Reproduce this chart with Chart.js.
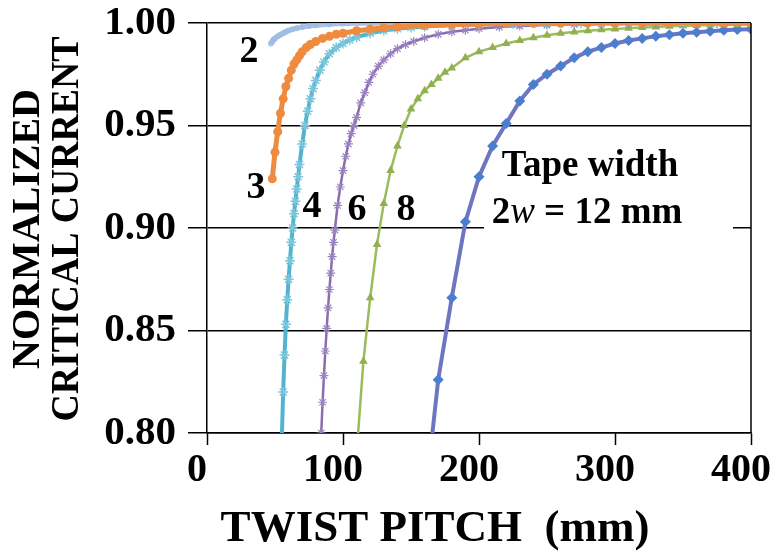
<!DOCTYPE html>
<html>
<head>
<meta charset="utf-8">
<script src="https://cdn.jsdelivr.net/npm/chart.js@4.4.1/dist/chart.umd.min.js"></script>
<style>
  html, body { margin: 0; padding: 0; background: #fff; }
  #wrap { width: 782px; height: 555px; }
</style>
</head>
<body>
<div id="wrap"><canvas id="ic" width="782" height="555"></canvas></div>
<script>
// number written next to each curve
const curveNames = ['2', '3', '4', '6', '8', '12'];

// twist pitch (mm) and normalized critical current, one pair per curve
const pitch2 = [47, 48, 49, 50, 52, 54, 56, 58, 60, 63, 66, 70, 75, 80, 90, 100, 120, 150, 200, 250, 300, 350, 400];
const ic2 = [0.990, 0.991, 0.992, 0.9925, 0.9935, 0.9943, 0.995, 0.9957, 0.9963, 0.997, 0.9975, 0.998, 0.9985, 0.9989, 0.9994, 0.9997, 0.9999, 1, 1, 1, 1, 1, 1];

const pitch3 = [48, 50, 52, 54, 56, 58, 60, 62, 64, 66, 68, 70, 73, 76, 80, 85, 90, 95, 100, 110, 120, 130, 140, 160, 180, 200, 220, 240, 260, 280, 300, 320, 340, 360, 380, 400];
const ic3 = [0.924, 0.937, 0.947, 0.956, 0.963, 0.969, 0.973, 0.977, 0.980, 0.982, 0.984, 0.986, 0.988, 0.9895, 0.991, 0.9925, 0.9935, 0.9945, 0.995, 0.9962, 0.997, 0.9977, 0.9982, 0.9988, 0.9992, 0.9995, 0.9997, 0.9998, 0.9999, 1, 1, 1, 1, 1, 1, 1];

const pitch4 = [55, 56, 57, 58, 59, 60, 61, 62, 63, 64, 65, 66, 67, 68, 70, 72, 74, 76, 78, 80, 83, 86, 90, 95, 100, 105, 110, 120, 130, 140, 150, 160, 180, 200, 225, 250, 275, 300, 325, 350, 375, 400];
const ic4 = [0.797, 0.82, 0.838, 0.853, 0.865, 0.875, 0.884, 0.893, 0.900, 0.907, 0.913, 0.919, 0.925, 0.931, 0.941, 0.950, 0.957, 0.963, 0.968, 0.972, 0.977, 0.981, 0.985, 0.988, 0.990, 0.9918, 0.993, 0.995, 0.9963, 0.9972, 0.9978, 0.9983, 0.999, 0.9993, 0.9996, 0.9998, 0.9999, 1, 1, 1, 1, 1];

const pitch6 = [83, 84, 85, 86, 87, 88, 89, 90, 91, 92, 93, 94, 96, 98, 100, 102, 104, 106, 108, 110, 113, 116, 119, 122, 126, 130, 135, 140, 146, 152, 160, 170, 180, 190, 200, 215, 230, 250, 270, 290, 310, 330, 350, 375, 400];
const ic6 = [0.785, 0.80, 0.815, 0.828, 0.84, 0.851, 0.861, 0.870, 0.878, 0.886, 0.893, 0.899, 0.911, 0.920, 0.928, 0.935, 0.941, 0.946, 0.950, 0.954, 0.961, 0.966, 0.971, 0.975, 0.979, 0.982, 0.985, 0.9875, 0.9895, 0.991, 0.9928, 0.9945, 0.9957, 0.9965, 0.9972, 0.998, 0.9985, 0.999, 0.9993, 0.9995, 0.9997, 0.9998, 0.9999, 1, 1];

const pitch8 = [110, 115, 120, 125, 130, 135, 140, 145, 150, 155, 160, 165, 170, 175, 180, 190, 200, 210, 220, 230, 240, 250, 260, 270, 280, 290, 300, 310, 320, 330, 340, 350, 360, 370, 380, 390, 400];
const ic8 = [0.79, 0.835, 0.866, 0.892, 0.912, 0.928, 0.940, 0.950, 0.958, 0.963, 0.967, 0.970, 0.973, 0.976, 0.978, 0.983, 0.986, 0.988, 0.990, 0.9915, 0.9928, 0.994, 0.995, 0.9956, 0.9962, 0.9967, 0.9971, 0.9975, 0.9978, 0.9981, 0.9984, 0.9986, 0.9988, 0.999, 0.9991, 0.9992, 0.9993];

const pitch12 = [160, 170, 180, 190, 200, 210, 220, 230, 240, 250, 260, 270, 280, 290, 300, 310, 320, 330, 340, 350, 360, 370, 380, 390, 400];
const ic12 = [0.765, 0.826, 0.866, 0.903, 0.925, 0.940, 0.951, 0.962, 0.970, 0.975, 0.979, 0.983, 0.986, 0.988, 0.990, 0.9915, 0.9925, 0.9935, 0.9943, 0.995, 0.9955, 0.996, 0.9965, 0.9968, 0.997];

const xTicks = [0, 100, 200, 300, 400];
const yTicks = [0.80, 0.85, 0.90, 0.95, 1.00];

function pts(xs, ys) {
  return xs.map((x, i) => ({ x: x, y: ys[i] }));
}

Chart.defaults.font.family = '"Liberation Serif", "DejaVu Serif", serif';
Chart.defaults.color = '#000';

const serif = '"Liberation Serif", serif';

// text around the plot: axis titles, curve numbers, tape width note
const decorations = {
  id: 'decorations',
  beforeDatasetsDraw(chart) {
    const ctx = chart.ctx;
    ctx.save();
    ctx.fillStyle = '#fff';
    ctx.fillRect(484, 140, 249, 100); // box behind the note hides the grid line
    ctx.restore();
  },
  afterDraw(chart) {
    const ctx = chart.ctx;
    const a = chart.chartArea;
    ctx.save();
    // right frame line
    ctx.strokeStyle = '#000';
    ctx.lineWidth = 1.5;
    ctx.beginPath();
    ctx.moveTo(a.right, a.top);
    ctx.lineTo(a.right, a.bottom);
    ctx.stroke();

    ctx.fillStyle = '#000';
    ctx.textAlign = 'center';
    ctx.textBaseline = 'middle';

    // x title
    ctx.font = 'bold 45px ' + serif;
    ctx.fillText('TWIST PITCH  (mm)', 435, 529);

    // y title, two lines
    ctx.font = 'bold 40px ' + serif;
    ctx.translate(0, 229);
    ctx.rotate(-Math.PI / 2);
    ctx.fillText('NORMALIZED', 0, 29, 290);
    ctx.fillText('CRITICAL CURRENT', 0, 68, 385);
    ctx.restore();

    // curve numbers
    ctx.save();
    ctx.fillStyle = '#000';
    ctx.textAlign = 'center';
    ctx.textBaseline = 'middle';
    ctx.font = 'bold 38px ' + serif;
    const spots = [[249, 52], [256, 188], [312, 207], [357, 210], [406, 210]];
    spots.forEach((p, i) => ctx.fillText(curveNames[i], p[0], p[1]));

    // tape width note
    ctx.font = 'bold 37px ' + serif;
    ctx.fillText('Tape width', 590, 166);
    const parts = [['2', 'bold 37px '], ['w', 'italic 37px '], [' = 12 mm', 'bold 37px ']];
    let total = 0;
    parts.forEach(p => { ctx.font = p[1] + serif; total += ctx.measureText(p[0]).width; });
    let x = 587 - total / 2;
    ctx.textAlign = 'left';
    parts.forEach(p => {
      ctx.font = p[1] + serif;
      ctx.fillText(p[0], x, 213);
      x += ctx.measureText(p[0]).width;
    });
    ctx.restore();
  }
};

const ctx = document.getElementById('ic').getContext('2d');
const chart = new Chart(ctx, {
  type: 'line',
  data: {
    datasets: [
      {
        label: curveNames[1], data: pts(pitch3, ic3),
        borderColor: '#EE8B3E', backgroundColor: '#EE8B3E', borderWidth: 5,
        pointStyle: 'circle', pointRadius: 4.5, pointBorderWidth: 0
      },
      {
        label: curveNames[0], data: pts(pitch2, ic2),
        borderColor: 'rgba(160,190,228,0.9)', backgroundColor: 'rgba(160,190,228,0.9)', borderWidth: 5,
        pointStyle: 'circle', pointRadius: 3, pointBorderWidth: 0
      },
      {
        label: curveNames[2], data: pts(pitch4, ic4),
        borderColor: '#52B3CF', backgroundColor: '#52B3CF', borderWidth: 4,
        pointStyle: 'star', pointRadius: 5, pointBorderWidth: 1.5, pointBorderColor: '#7CC6DC'
      },
      {
        label: curveNames[3], data: pts(pitch6, ic6),
        borderColor: '#8A6DB1', backgroundColor: '#8A6DB1', borderWidth: 2.5,
        pointStyle: 'star', pointRadius: 4.5, pointBorderWidth: 1.2, pointBorderColor: '#9C83C0'
      },
      {
        label: curveNames[4], data: pts(pitch8, ic8),
        borderColor: '#9DBB5C', backgroundColor: '#8FB150', borderWidth: 2.5,
        pointStyle: 'triangle', pointRadius: 5, pointBorderWidth: 0
      },
      {
        label: curveNames[5], data: pts(pitch12, ic12),
        borderColor: '#6E75C2', backgroundColor: '#4C7ED0', borderWidth: 4,
        pointStyle: 'rectRot', pointRadius: 5.5, pointBorderWidth: 0
      }
    ]
  },
  options: {
    responsive: false,
    animation: false,
    layout: { padding: { left: 0, right: 31, top: 23, bottom: 0 } },
    elements: { line: { tension: 0 } },
    plugins: {
      legend: { display: false },
      tooltip: { enabled: false }
    },
    scales: {
      x: {
        type: 'linear', min: 0, max: 400,
        afterBuildTicks: s => { s.ticks = xTicks.map(v => ({ value: v })); },
        ticks: {
          font: { size: 40, weight: 'bold' }, color: '#000', padding: 2, labelOffset: -10,
          maxRotation: 0
        },
        grid: { drawOnChartArea: false, tickLength: 12, color: '#000', tickWidth: 1.5 },
        border: { color: '#000', width: 1.5 },
        afterFit: s => { s.height = 122; s.paddingLeft = 0; s.paddingRight = 0; }
      },
      y: {
        min: 0.8, max: 1.0,
        afterBuildTicks: s => { s.ticks = yTicks.map(v => ({ value: v })); },
        ticks: {
          font: { size: 41, weight: 'bold' }, color: '#000', padding: 12,
          callback: v => v.toFixed(2)
        },
        grid: { color: '#000', lineWidth: 1.5, tickLength: 19 },
        border: { color: '#000', width: 1.5 },
        afterFit: s => { s.width = 207; s.paddingTop = 0; s.paddingBottom = 0; }
      }
    }
  },
  plugins: [decorations]
});
</script>
</body>
</html>
